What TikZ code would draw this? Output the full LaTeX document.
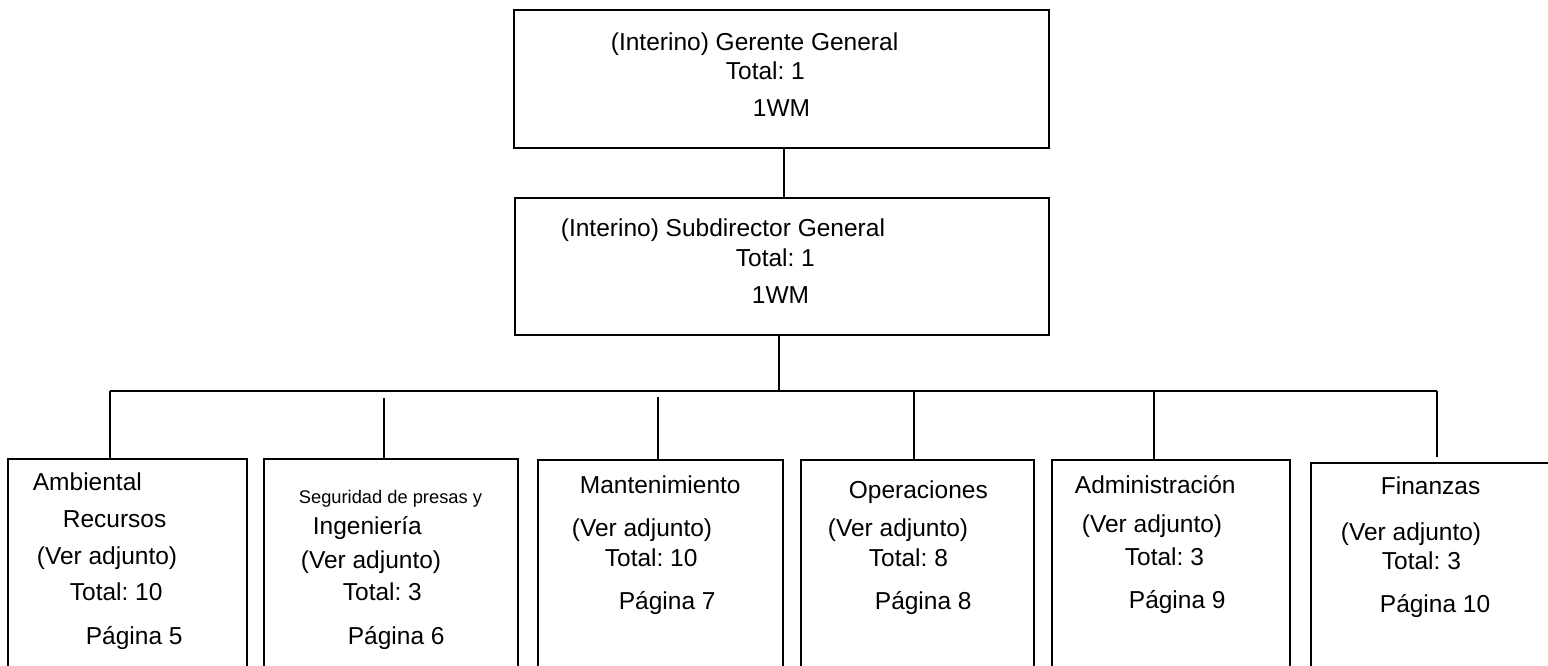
\documentclass[tikz,border=0pt]{standalone}
\usepackage{fontspec}
\setmainfont{Liberation Sans}
\frenchspacing
\begin{document}
\begin{tikzpicture}[x=1pt,y=-1pt,line width=1.8pt,
  unit/.style={draw,rectangle,inner sep=0pt,anchor=north west},
  lbl/.style={anchor=base west,inner sep=0pt,font=\fontsize{24.5}{29}\selectfont},
  smalllbl/.style={anchor=base west,inner sep=0pt,font=\fontsize{18.3}{22}\selectfont}]
\useasboundingbox (0,0) rectangle (1548,665);
\clip (0,0) rectangle (1548,665);

% top management
\node[unit,minimum width=535pt,minimum height=138pt] (gm) at (513,9) {};
\node[lbl] (gm1) at (610,50) {(Interino) Gerente General};
\node[lbl] (gm2) at (725,79) {Total: 1};
\node[lbl] (gm3) at (752,116) {1WM};

\node[unit,minimum width=534pt,minimum height=137pt] (dg) at (514,197) {};
\node[lbl] (dg1) at (560,236) {(Interino) Subdirector General};
\node[lbl] (dg2) at (735,266) {Total: 1};
\node[lbl] (dg3) at (751,303) {1WM};

% departments
\node[unit,minimum width=239pt,minimum height=260pt] (b1) at (7,458) {};
\node[unit,minimum width=254pt,minimum height=260pt] (b2) at (263,458) {};
\node[unit,minimum width=245pt,minimum height=260pt] (b3) at (537,459) {};
\node[unit,minimum width=233pt,minimum height=260pt] (b4) at (800,459) {};
\node[unit,minimum width=238pt,minimum height=260pt] (b5) at (1051,459) {};
\node[unit,minimum width=260pt,minimum height=260pt] (b6) at (1310,462) {};

\node[lbl] (t11) at (32,490) {Ambiental};
\node[lbl] (t12) at (62,527) {Recursos};
\node[lbl] (t13) at (36,564) {(Ver adjunto)};
\node[lbl] (t14) at (69,600) {Total: 10};
\node[lbl] (t15) at (85,644) {Página 5};

\node[smalllbl] (t21) at (298,503) {Seguridad de presas y};
\node[lbl] (t22) at (312,534) {Ingeniería};
\node[lbl] (t23) at (300,568) {(Ver adjunto)};
\node[lbl] (t24) at (342,600) {Total: 3};
\node[lbl] (t25) at (347,644) {Página 6};

\node[lbl] (t31) at (579,493) {Mantenimiento};
\node[lbl] (t32) at (571,536) {(Ver adjunto)};
\node[lbl] (t33) at (604,566) {Total: 10};
\node[lbl] (t34) at (618,609) {Página 7};

\node[lbl] (t41) at (848,498) {Operaciones};
\node[lbl] (t42) at (827,536) {(Ver adjunto)};
\node[lbl] (t43) at (868,566) {Total: 8};
\node[lbl] (t44) at (874,609) {Página 8};

\node[lbl] (t51) at (1074,493) {Administración};
\node[lbl] (t52) at (1081,532) {(Ver adjunto)};
\node[lbl] (t53) at (1124,565) {Total: 3};
\node[lbl] (t54) at (1128,608) {Página 9};

\node[lbl] (t61) at (1380,494) {Finanzas};
\node[lbl] (t62) at (1340,540) {(Ver adjunto)};
\node[lbl] (t63) at (1381,569) {Total: 3};
\node[lbl] (t64) at (1379,612) {Página 10};

% connectors
\coordinate (c0) at (784,0);
\coordinate (c1) at (779,391);
\coordinate (d1) at (110,391);
\coordinate (d2) at (384,398);
\coordinate (d3) at (658,397);
\coordinate (d4) at (914,391);
\coordinate (d5) at (1154,391);
\coordinate (d6) at (1437,391);

\draw (gm.south -| c0) -- (dg.north -| c0);
\draw (dg.south -| c1) -- (c1);
\draw (d1) -- (d6);
\draw (d1) -- (d1 |- b1.north);
\draw (d2) -- (d2 |- b2.north);
\draw (d3) -- (d3 |- b3.north);
\draw (d4) -- (d4 |- b4.north);
\draw (d5) -- (d5 |- b5.north);
\draw (d6) -- ([yshift=5pt]d6 |- b6.north);
\end{tikzpicture}
\end{document}
